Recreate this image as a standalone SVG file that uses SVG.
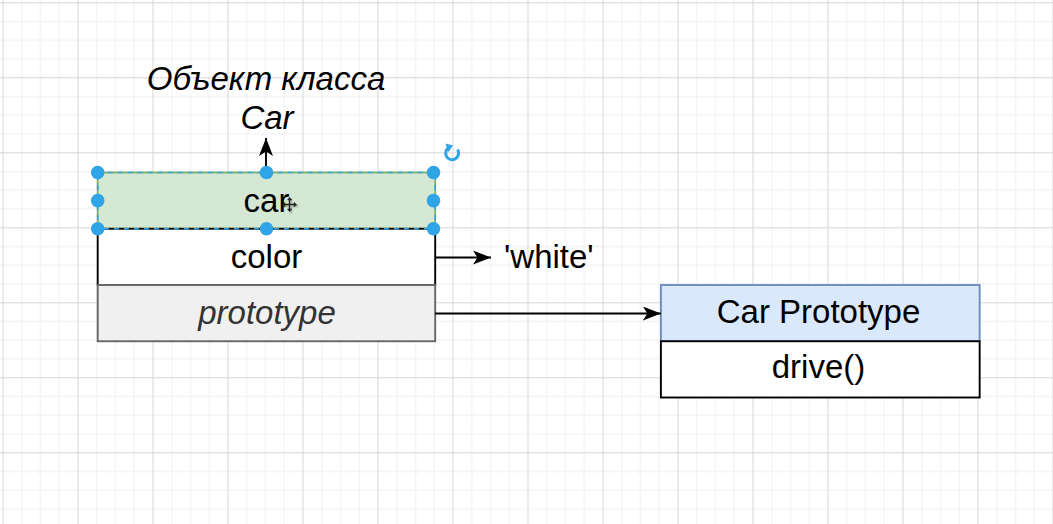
<svg xmlns="http://www.w3.org/2000/svg" width="1053" height="524" viewBox="0 0 1053 524">
<style>
text{font-family:"Liberation Sans",Arial,Helvetica,sans-serif;font-size:33px;fill:#000;}
.it{font-style:italic;}
.mid{text-anchor:middle;}
.conn{stroke:#000;stroke-width:1.9;fill:none;}
.handle{fill:#2fa4e7;stroke:none;}
</style>
<defs>
<pattern id="grid" x="2.5" y="2.3" width="75" height="75" patternUnits="userSpaceOnUse">
<rect x="18.75" y="0" width="1" height="75" fill="#efefef"/>
<rect x="37.5" y="0" width="1" height="75" fill="#efefef"/>
<rect x="56.25" y="0" width="1" height="75" fill="#efefef"/>
<rect x="0" y="18.75" width="75" height="1" fill="#efefef"/>
<rect x="0" y="37.5" width="75" height="1" fill="#efefef"/>
<rect x="0" y="56.25" width="75" height="1" fill="#efefef"/>
<rect x="0" y="0" width="1" height="75" fill="#d6d6d6"/>
<rect x="0" y="0" width="75" height="1" fill="#d6d6d6"/>
</pattern>
<marker id="arrow" markerUnits="userSpaceOnUse" markerWidth="19" markerHeight="15" refX="18" refY="7" orient="auto">
<path d="M0,0 L18,7 L0,14 L4.5,7 z" fill="#000"/>
</marker>
</defs>
<rect x="0" y="0" width="1053" height="524" fill="#ffffff"/>
<rect x="0" y="0" width="1053" height="524" fill="url(#grid)"/>

<g id="label-object">
<text class="it mid" x="266" y="90">Объект класса</text>
<text class="it mid" x="267" y="129">Car</text>
</g>

<g id="car-object">
<rect id="row-car" x="97.7" y="172.5" width="337.5" height="56.25" fill="#d5e8d4" stroke="#82b366" stroke-width="1.9"/>
<text class="mid" x="266.5" y="211.7">car</text>
<rect id="row-color" x="97.7" y="228.75" width="337.5" height="56.25" fill="#ffffff" stroke="#000" stroke-width="1.9"/>
<text class="mid" x="266.5" y="268.3">color</text>
<rect id="row-prototype" x="97.7" y="285" width="337.5" height="56.25" fill="#f0f0f0" stroke="#666666" stroke-width="1.9"/>
<text class="it mid" x="267" y="324" style="fill:#333333">prototype</text>
</g>

<g id="value-white">
<text x="504" y="268.3">'white'</text>
</g>

<g id="car-prototype">
<rect x="660.9" y="285" width="318.75" height="56.25" fill="#dae8fc" stroke="#6c8ebf" stroke-width="1.9"/>
<text class="mid" x="818.5" y="323">Car Prototype</text>
<rect x="660.9" y="341.25" width="318.75" height="56.25" fill="#ffffff" stroke="#000" stroke-width="1.9"/>
<text class="mid" x="818.5" y="377.5">drive()</text>
</g>

<g id="connectors">
<line class="conn" x1="266" y1="172.5" x2="266" y2="138" marker-end="url(#arrow)"/>
<line class="conn" x1="435.2" y1="257.5" x2="491" y2="257.5" marker-end="url(#arrow)"/>
<line class="conn" x1="435.2" y1="313.5" x2="660.9" y2="313.5" marker-end="url(#arrow)"/>
</g>

<g id="selection">
<rect x="97.7" y="172.5" width="337.5" height="56.25" fill="none" stroke="#2fa4e7" stroke-width="1.5" stroke-dasharray="5 5"/>
<circle class="handle" cx="97.7" cy="172.5" r="6.8"/>
<circle class="handle" cx="266.5" cy="172.5" r="6.8"/>
<circle class="handle" cx="433.5" cy="172.5" r="6.8"/>
<circle class="handle" cx="97.7" cy="200.6" r="6.8"/>
<circle class="handle" cx="433.5" cy="200.6" r="6.8"/>
<circle class="handle" cx="97.7" cy="228.8" r="6.8"/>
<circle class="handle" cx="266.5" cy="228.8" r="6.8"/>
<circle class="handle" cx="433.5" cy="228.8" r="6.8"/>
<path d="M450,147 A6.5,6.5 0 1 0 457.5,149.5" fill="none" stroke="#2fa4e7" stroke-width="3"/>
<path d="M445.5,143.5 L453,145.5 L448.5,152 z" fill="#2fa4e7"/>
<g id="cursor" stroke-linecap="round">
<g transform="translate(291,206)" stroke="#999" stroke-width="3" opacity="0.5">
<line x1="-6" y1="0" x2="6" y2="0"/><line x1="0" y1="-6" x2="0" y2="6"/>
</g>
<g transform="translate(289.5,204.5)" stroke="#222" stroke-width="1.4" fill="#222">
<line x1="-6" y1="0" x2="6" y2="0"/><line x1="0" y1="-6" x2="0" y2="6"/>
<path d="M-7,0 L-4.5,-2 L-4.5,2 z M7,0 L4.5,-2 L4.5,2 z M0,-7 L-2,-4.5 L2,-4.5 z M0,7 L-2,4.5 L2,4.5 z" stroke-width="0.6"/>
</g>
</g>
</g>
</svg>
